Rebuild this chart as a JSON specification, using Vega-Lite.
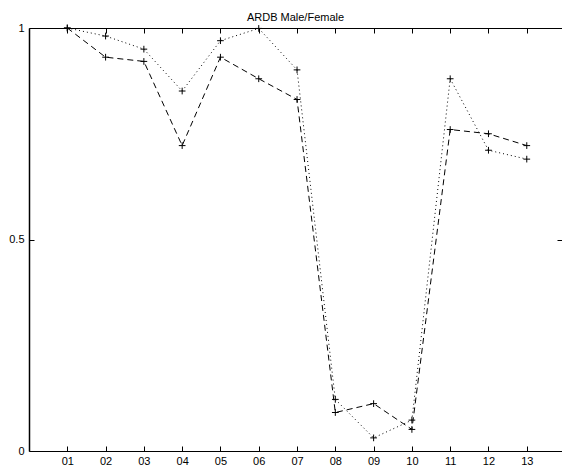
{
  "$schema": "https://vega.github.io/schema/vega-lite/v6.json",
  "autosize": {"type": "none"},
  "width": 533,
  "height": 423,
  "padding": {"left": 29, "top": 28, "right": 0, "bottom": 15},
  "background": "white",
  "title": {"text": "ARDB Male/Female", "fontSize": 11, "font": "Liberation Sans", "fontWeight": "normal", "color": "black", "offset": -10, "anchor": "middle", "frame": "group", "baseline": "alphabetic"},
  "config": {
    "view": {"stroke": null},
    "axis": {"grid": false, "domainColor": "black", "tickColor": "black", "labelColor": "black", "labelFont": "Liberation Sans", "labelFontSize": 11, "title": null, "domainWidth": 1, "tickWidth": 1, "minExtent": 0}
  },
  "data": {"values": [
    {"idx": 1, "series": "Female", "value": 1.0},
    {"idx": 2, "series": "Female", "value": 0.981},
    {"idx": 3, "series": "Female", "value": 0.950},
    {"idx": 4, "series": "Female", "value": 0.851},
    {"idx": 5, "series": "Female", "value": 0.970},
    {"idx": 6, "series": "Female", "value": 0.999},
    {"idx": 7, "series": "Female", "value": 0.901},
    {"idx": 8, "series": "Female", "value": 0.122},
    {"idx": 9, "series": "Female", "value": 0.031},
    {"idx": 10, "series": "Female", "value": 0.073},
    {"idx": 11, "series": "Female", "value": 0.880},
    {"idx": 12, "series": "Female", "value": 0.711},
    {"idx": 13, "series": "Female", "value": 0.690},
    {"idx": 1, "series": "Male", "value": 1.0},
    {"idx": 2, "series": "Male", "value": 0.931},
    {"idx": 3, "series": "Male", "value": 0.921},
    {"idx": 4, "series": "Male", "value": 0.722},
    {"idx": 5, "series": "Male", "value": 0.931},
    {"idx": 6, "series": "Male", "value": 0.880},
    {"idx": 7, "series": "Male", "value": 0.831},
    {"idx": 8, "series": "Male", "value": 0.091},
    {"idx": 9, "series": "Male", "value": 0.112},
    {"idx": 10, "series": "Male", "value": 0.051},
    {"idx": 11, "series": "Male", "value": 0.760},
    {"idx": 12, "series": "Male", "value": 0.750},
    {"idx": 13, "series": "Male", "value": 0.722}
  ]},
  "layer": [
    {
      "mark": {"type": "line", "color": "black", "strokeWidth": 1},
      "encoding": {
        "x": {"field": "idx", "type": "quantitative", "scale": {"domain": [0, 13.92], "nice": false, "zero": false},
              "axis": {"orient": "bottom", "values": [1,2,3,4,5,6,7,8,9,10,11,12,13], "format": "02d", "tickSize": -5, "labelPadding": 9, "labelFlush": false}},
        "y": {"field": "value", "type": "quantitative", "scale": {"domain": [0, 1], "nice": false},
              "axis": {"orient": "left", "values": [0, 0.5, 1], "format": "~g", "tickSize": -5, "labelPadding": 10, "labelFlush": false, "domainWidth": 1.5}},
        "detail": {"field": "series"},
        "strokeDash": {"field": "series", "type": "nominal", "scale": {"domain": ["Male", "Female"], "range": [[6, 4], [1, 3]]}, "legend": null}
      }
    },
    {
      "mark": {"type": "point", "shape": "M-1,0H1M0,-1V1", "size": 45, "filled": false, "stroke": "black", "strokeWidth": 1, "opacity": 1},
      "encoding": {
        "x": {"field": "idx", "type": "quantitative",
              "axis": {"orient": "top", "values": [1,2,3,4,5,6,7,8,9,10,11,12,13], "labels": false, "domain": true, "domainColor": "black", "tickColor": "black", "ticks": true, "tickSize": -5}},
        "y": {"field": "value", "type": "quantitative",
              "axis": {"orient": "right", "values": [0.5], "labels": false, "domain": false, "tickSize": -5}}
      }
    }
  ],
  "resolve": {"axis": {"x": "independent", "y": "independent"}}
}
